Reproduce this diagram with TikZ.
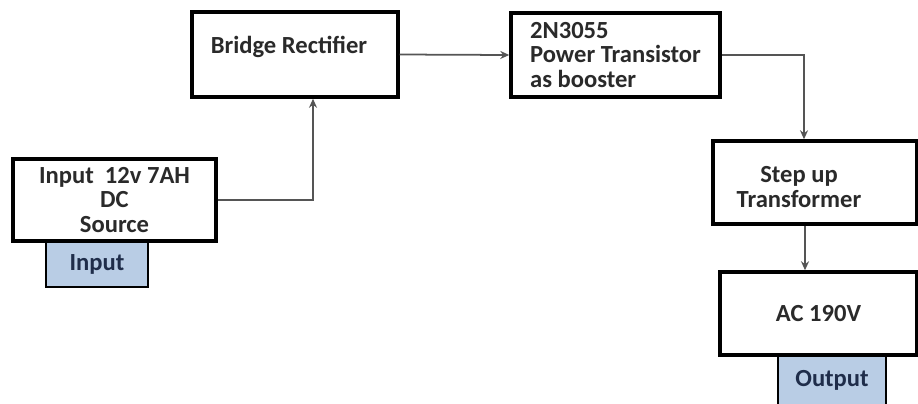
\documentclass[tikz,border=0pt]{standalone}
\usepackage{fontspec}
\setmainfont{Carlito}
\usepackage{xcolor}
\usepackage{tikz}
\usetikzlibrary{arrows.meta}

\definecolor{txtgray}{HTML}{2A2A2A}
\definecolor{tagblue}{HTML}{B9CDE5}
\definecolor{tagtxt}{HTML}{1F2D4A}
\definecolor{wiregray}{HTML}{555555}

\begin{document}
\begin{tikzpicture}[x=0.02cm, y=-0.02cm,
  block/.style={draw, line width=2pt, fill=white, inner sep=0pt},
  tag/.style={draw, line width=1.3pt, fill=tagblue, inner sep=0pt,
    text=tagtxt},
  lbl/.style={text=txtgray, align=center, inner sep=0pt},
  conn/.style={-{Stealth[length=1.8mm, width=1.6mm]}, line width=1pt,
    draw=wiregray},
  every node/.style={font=\fontsize{14pt}{14.2pt}\selectfont\bfseries}
]
\clip (0,0) rectangle (918,403);

% Quelle und Eingang
\node[tag, minimum width=2.04cm, minimum height=0.92cm] (inlbl) at (97,264) {Input};
\node[block, lbl, minimum width=4.06cm, minimum height=1.64cm] (src) at (114.5,200)
  {Input~~12v 7AH\\DC\\Source};

% obere Reihe
\node[block, minimum width=4.12cm, minimum height=1.7cm] (bridge) at (295,54.5) {};
\node[lbl] (bridgetxt) at (289,47) {Bridge Rectifier};
\node[block, lbl, align=left, minimum width=4.18cm, minimum height=1.68cm] (trans) at (615.5,55)
  {2N3055\\Power Transistor\\as booster};

% rechte Spalte
\node[block, minimum width=4.08cm, minimum height=1.66cm] (stepup) at (815,182.5) {};
\node[lbl] (stepuptxt) at (799,187) {Step up\\Transformer};
\node[tag, minimum width=2.16cm, minimum height=1.02cm] (outlbl) at (832,380.5) {Output};
\node[block, lbl, minimum width=3.94cm, minimum height=1.66cm] (ac) at (818.5,313.5) {AC 190V};

% Verbindungen
\draw[conn] (src.east) -| ([xshift=0.36cm]bridge.south);
\draw[conn] (bridge.east) -- (trans.west);
\draw[conn] (trans.east) -| ([xshift=-0.22cm]stepup.north);
\draw[conn] ([xshift=-0.2cm]stepup.south) -- ([xshift=-0.2cm]stepup.south |- ac.north);

\end{tikzpicture}
\end{document}
